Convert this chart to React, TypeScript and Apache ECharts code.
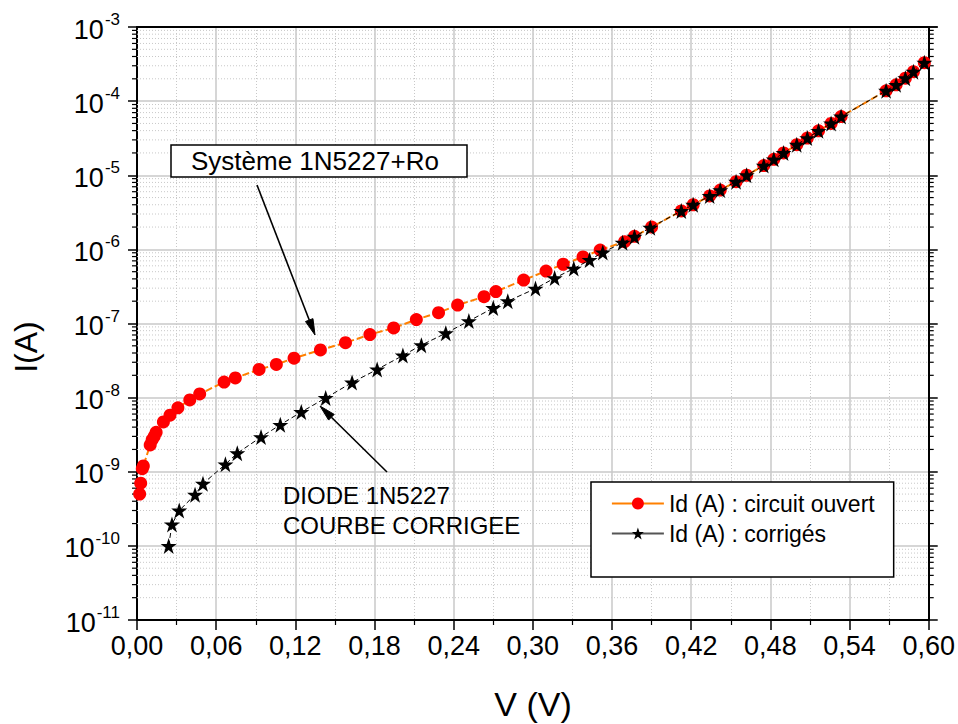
import React, { useEffect, useRef } from 'react';
import * as echarts from 'echarts';

// ---- data ----
const vOpen = [
  0.002, 0.0028, 0.004, 0.0048, 0.010, 0.0115, 0.013, 0.0145, 0.020, 0.025, 0.031, 0.040, 0.0475,
  0.066, 0.0745, 0.0925, 0.1056, 0.119, 0.139, 0.158, 0.1765, 0.1945, 0.2117, 0.2285, 0.243,
  0.263, 0.272, 0.293, 0.310, 0.323, 0.338, 0.351, 0.3695, 0.377, 0.390,
  0.4125, 0.4215, 0.434, 0.442, 0.454, 0.462, 0.475, 0.4826, 0.490, 0.500, 0.508, 0.5165, 0.526, 0.5336,
  0.5677, 0.5753, 0.5823, 0.5884, 0.5967,
];
const iOpen = [
  5.0e-10, 7.0e-10, 1.1e-9, 1.2e-9, 2.3e-9, 2.7e-9, 3.0e-9, 3.4e-9, 4.7e-9, 5.8e-9, 7.3e-9, 9.3e-9, 1.12e-8,
  1.62e-8, 1.84e-8, 2.4e-8, 2.8e-8, 3.4e-8, 4.4e-8, 5.5e-8, 7.1e-8, 8.7e-8, 1.13e-7, 1.4e-7, 1.77e-7,
  2.3e-7, 2.7e-7, 3.85e-7, 5.1e-7, 6.3e-7, 7.9e-7, 9.8e-7, 1.27e-6, 1.5e-6, 2.0e-6,
  3.3e-6, 4.0e-6, 5.25e-6, 6.3e-6, 8.2e-6, 1.0e-5, 1.35e-5, 1.64e-5, 2.0e-5, 2.58e-5, 3.17e-5, 3.97e-5, 5.0e-5, 6.2e-5,
  1.38e-4, 1.66e-4, 2.04e-4, 2.5e-4, 3.3e-4,
];
const vCorr = [
  0.024, 0.0265, 0.032, 0.044, 0.050, 0.067, 0.076, 0.094, 0.1086, 0.1245, 0.143,
  0.163, 0.182, 0.2015, 0.2155, 0.234, 0.2515, 0.270, 0.281, 0.302, 0.3165, 0.331, 0.343, 0.353,
  0.368, 0.377, 0.389,
  0.4125, 0.4215, 0.434, 0.442, 0.454, 0.462, 0.475, 0.4826, 0.490, 0.500, 0.508, 0.5165, 0.526, 0.5336,
  0.5677, 0.5753, 0.5823, 0.5884, 0.5967,
];
const iCorr = [
  1.0e-10, 1.95e-10, 3.0e-10, 4.9e-10, 6.9e-10, 1.26e-9, 1.78e-9, 2.94e-9, 4.3e-9, 6.4e-9, 9.9e-9,
  1.6e-8, 2.4e-8, 3.7e-8, 5.1e-8, 7.4e-8, 1.08e-7, 1.62e-7, 2.0e-7, 2.96e-7, 4.1e-7, 5.5e-7, 7.2e-7, 9.1e-7,
  1.23e-6, 1.48e-6, 1.96e-6,
  3.3e-6, 4.0e-6, 5.25e-6, 6.3e-6, 8.2e-6, 1.0e-5, 1.35e-5, 1.64e-5, 2.0e-5, 2.58e-5, 3.17e-5, 3.97e-5, 5.0e-5, 6.2e-5,
  1.38e-4, 1.66e-4, 2.04e-4, 2.5e-4, 3.3e-4,
];
const seriesNames = ['Id (A) : circuit ouvert', 'Id (A) : corrigés'];
const decadeExponents = [-11, -10, -9, -8, -7, -6, -5, -4];
const minorMultipliers = [2, 3, 4, 5, 6, 7, 8, 9];
const xMin = 0;
const xMax = 0.6;
const xInterval = 0.06;
const yMin = 1e-11;
const yMax = 1e-3;

const FONT = 'Liberation Sans, Arial, sans-serif';
const STAR = 'path://M50,2 L61.8,36.2 L97.6,36.2 L68.6,57.4 L79.6,91.6 L50,70.4 L20.4,91.6 L31.4,57.4 L2.4,36.2 L38.2,36.2 Z';

function arrow(x1: number, y1: number, x2: number, y2: number) {
  const ang = Math.atan2(y2 - y1, x2 - x1);
  const len = 16;
  const hw = 4;
  const bx = x2 - len * Math.cos(ang);
  const by = y2 - len * Math.sin(ang);
  const px = -Math.sin(ang) * hw;
  const py = Math.cos(ang) * hw;
  return [
    { type: 'line', z: 12, shape: { x1, y1, x2: bx, y2: by }, style: { stroke: '#000', lineWidth: 1.6 }, silent: true },
    {
      type: 'polygon',
      z: 12,
      shape: { points: [[x2, y2], [bx + px, by + py], [bx - px, by - py]] },
      style: { fill: '#000', stroke: '#000', lineWidth: 1 },
      silent: true,
    },
  ];
}

export default function App() {
  const ref = useRef<HTMLDivElement>(null);
  useEffect(() => {
    document.body.style.margin = '0';
    document.body.style.overflow = 'hidden';
    if (!ref.current) return;
    const chart = echarts.init(ref.current, undefined, { renderer: 'svg' });

    const minorVals: number[] = [];
    decadeExponents.forEach((e) => minorMultipliers.forEach((m) => minorVals.push(m * Math.pow(10, e))));

    const openData = vOpen.map((v, i) => [v, iOpen[i]]);
    const corrData = vCorr.map((v, i) => [v, iCorr[i]]);

    const yAxisBase = {
      type: 'log',
      logBase: 10,
      min: yMin,
      max: yMax,
      splitNumber: 8,
      axisLine: { show: true, onZero: false, lineStyle: { color: '#000', width: 2 } },
      axisTick: { show: true, inside: false, length: 9, lineStyle: { color: '#000', width: 1.5 } },
    };

    chart.setOption({
      animation: false,
      backgroundColor: '#fff',
      grid: { left: 137, right: 29, top: 27, bottom: 104, containLabel: false },
      xAxis: [
        {
          type: 'value',
          min: xMin,
          max: xMax,
          interval: xInterval,
          position: 'bottom',
          axisLine: { show: true, onZero: false, lineStyle: { color: '#000', width: 2 } },
          axisTick: { show: true, inside: false, length: 10, lineStyle: { color: '#000', width: 1.5 } },
          minorTick: { show: true, splitNumber: 2, length: 5, lineStyle: { color: '#000', width: 1.2 } },
          axisLabel: {
            formatter: (v: number) => v.toFixed(2).replace('.', ','),
            fontSize: 27,
            fontFamily: FONT,
            color: '#000',
            margin: 12,
          },
          splitLine: { show: true, lineStyle: { color: '#c8c8c8', width: 1.5 } },
          minorSplitLine: { show: true, lineStyle: { color: '#c8c8c8', width: 1, type: [1, 2] } },
        },
        {
          type: 'value',
          min: xMin,
          max: xMax,
          interval: xInterval,
          position: 'top',
          axisLine: { show: true, onZero: false, lineStyle: { color: '#000', width: 2 } },
          axisTick: { show: false },
          axisLabel: { show: false },
          splitLine: { show: false },
        },
      ],
      yAxis: [
        {
          ...yAxisBase,
          position: 'left',
          axisLabel: {
            margin: 17,
            formatter: (v: number) => `{b|10}{s|${Math.round(Math.log10(v))}}`,
            rich: {
              b: { fontSize: 27, fontFamily: FONT, color: '#000', verticalAlign: 'bottom', lineHeight: 32 },
              s: { fontSize: 17, fontFamily: FONT, color: '#000', verticalAlign: 'bottom', lineHeight: 32, padding: [0, 0, 15, 1] },
            },
          },
          splitLine: { show: true, lineStyle: { color: '#c8c8c8', width: 1.5 } },
        },
        {
          ...yAxisBase,
          position: 'right',
          axisLabel: { show: false },
          splitLine: { show: false },
        },
      ],
      legend: {
        orient: 'vertical',
        left: 591,
        top: 482,
        data: [
          { name: seriesNames[0], lineStyle: { type: 'solid', color: '#ff8000', width: 1.8 } },
          { name: seriesNames[1], lineStyle: { type: 'solid', color: '#555', width: 1.8 } },
        ],
        itemWidth: 52,
        itemHeight: 15,
        itemGap: 7,
        lineStyle: { type: 'solid', width: 1.8 },
        textStyle: { fontSize: 23, fontFamily: FONT, color: '#000' },
        backgroundColor: '#fff',
        borderColor: '#000',
        borderWidth: 1.5,
        borderRadius: 0,
        padding: [10, 19, 32, 20],
      },
      series: [
        {
          type: 'custom',
          name: 'minor',
          silent: true,
          clip: false,
          z: 1,
          xAxisIndex: 0,
          yAxisIndex: 0,
          data: minorVals.map((v) => [0, v]),
          encode: { x: 0, y: 1 },
          renderItem: (params: any, api: any) => {
            const cs = params.coordSys;
            const y = api.coord([0, api.value(1)])[1];
            return {
              type: 'group',
              children: [
                { type: 'line', shape: { x1: cs.x, y1: y, x2: cs.x + cs.width, y2: y }, style: { stroke: '#c8c8c8', lineWidth: 1, lineDash: [1, 2] } },
                { type: 'line', shape: { x1: cs.x - 5, y1: y, x2: cs.x, y2: y }, style: { stroke: '#000', lineWidth: 1.2 } },
                { type: 'line', shape: { x1: cs.x + cs.width, y1: y, x2: cs.x + cs.width + 5, y2: y }, style: { stroke: '#000', lineWidth: 1.2 } },
              ],
            };
          },
        },
        {
          type: 'line',
          name: seriesNames[0],
          data: openData,
          z: 3,
          symbol: 'circle',
          symbolSize: 13,
          showSymbol: true,
          itemStyle: { color: '#ff0000', borderWidth: 0 },
          lineStyle: { color: '#ff8000', width: 2, type: [7, 3] },
          color: '#ff0000',
        },
        {
          type: 'line',
          name: seriesNames[1],
          data: corrData,
          z: 4,
          symbol: STAR,
          symbolSize: 16,
          showSymbol: true,
          itemStyle: { color: '#000', borderWidth: 0 },
          lineStyle: { color: '#000', width: 1, type: [5, 3] },
          color: '#000',
        },
      ],
      graphic: [
        {
          type: 'rect',
          shape: { x: 171, y: 145, width: 296, height: 32 },
          style: { fill: '#fff', stroke: '#000', lineWidth: 1.5 },
          z: 10,
          silent: true,
        },
        {
          type: 'text',
          x: 191,
          y: 161,
          z: 11,
          silent: true,
          style: { text: 'Système 1N5227+Ro', font: `26px ${FONT}`, fill: '#000', textVerticalAlign: 'middle', textAlign: 'left' },
        },
        ...arrow(257, 185, 315, 335),
        ...arrow(387, 472, 320, 406),
        {
          type: 'text',
          x: 283,
          y: 495,
          z: 11,
          silent: true,
          style: { text: 'DIODE 1N5227', font: `24px ${FONT}`, fill: '#000', textVerticalAlign: 'middle', textAlign: 'left' },
        },
        {
          type: 'text',
          x: 283,
          y: 525,
          z: 11,
          silent: true,
          style: { text: 'COURBE CORRIGEE', font: `24px ${FONT}`, fill: '#000', textVerticalAlign: 'middle', textAlign: 'left' },
        },
        {
          type: 'text',
          x: 533,
          y: 704,
          silent: true,
          style: { text: 'V (V)', font: `34px ${FONT}`, fill: '#000', textVerticalAlign: 'middle', textAlign: 'center' },
        },
        {
          type: 'text',
          x: 26,
          y: 347,
          rotation: Math.PI / 2,
          silent: true,
          style: { text: 'I(A)', font: `32px ${FONT}`, fill: '#000', textVerticalAlign: 'middle', textAlign: 'center' },
        },
      ],
    });
    return () => chart.dispose();
  }, []);
  return <div ref={ref} style={{ width: 958, height: 724 }} />;
}
